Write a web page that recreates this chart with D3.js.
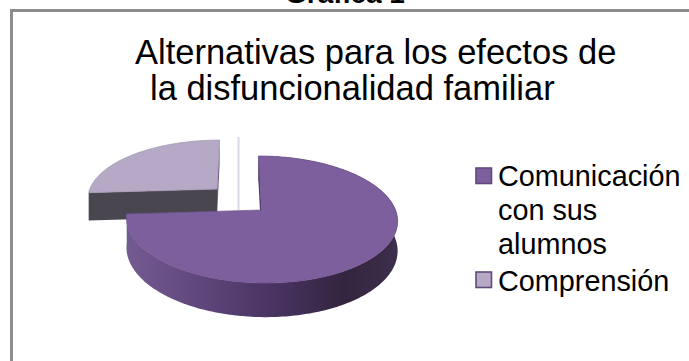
<!DOCTYPE html>
<html>
<head>
<meta charset="utf-8">
<script src="https://cdn.jsdelivr.net/npm/d3@7"></script>
<style>
html, body { margin: 0; padding: 0; background: #fff; }
svg { display: block; }
text { font-family: "Liberation Sans", Arial, sans-serif; fill: #000; }
</style>
</head>
<body>
<svg id="chart" width="689" height="361"></svg>
<script>
// Chart content
const categories = ["Comunicación con sus alumnos", "Comprensión"];
const values = [74, 26];
const sliceColors = ["#7e5f9d", "#b5a9c6"];
const legendLines = [["Comunicación", "con sus", "alumnos"], ["Comprensión"]];
const titleLines = ["Alternativas para los efectos de", "la disfuncionalidad familiar"];
const caption = "Gráfica 1";

const svg = d3.select("#chart");
const defs = svg.append("defs");

// Page frame around the chart
svg.append("path")
  .attr("d", "M11.5,361V10.5H689")
  .attr("fill", "none").attr("stroke", "#8c8c8c").attr("stroke-width", 3);

svg.append("text").attr("x", 345).attr("y", 3)
  .attr("text-anchor", "middle").attr("font-size", 28).attr("font-weight", "bold")
  .text(caption);

// Title
const titleX = [135, 150], titleY = [64, 100];
svg.selectAll("text.title").data(titleLines).join("text")
  .attr("class", "title")
  .attr("x", (d, i) => titleX[i]).attr("y", (d, i) => titleY[i])
  .attr("font-size", 34.5)
  .text(d => d);

// Perspective model for the pie: a disc lying on a plane, viewed from above.
const vanishX = 238, horizonY = -204.8, planeH = 414.8;
const focalX = 134, depthRate = 0.1497, thickness = 29;

function project(px, py, level) {
  const w = 1 + depthRate * py;
  return [vanishX + focalX * px / w,
          horizonY + (planeH + level * thickness) / w];
}

// Explosion of each slice in disc units
const explode = [{ x: 23.5 / focalX, y: 0 }, { x: -22.1 / focalX, y: 0.354 }];

const pieLayout = d3.pie().sort(null).value(d => d);
const arcs = pieLayout(values);
const lineGen = d3.line();

function rimPoint(i, angle, level) {
  const e = explode[i];
  return project(e.x + Math.sin(angle), e.y + Math.cos(angle), level);
}
function rim(i, a0, a1, level) {
  const n = Math.max(2, Math.ceil(Math.abs(a1 - a0) / 0.02));
  return d3.range(n + 1).map(k => rimPoint(i, a0 + (a1 - a0) * k / n, level));
}
function apex(i, level) {
  return project(explode[i].x, explode[i].y, level);
}

// Stray guide line in the gap between the slices
svg.append("line")
  .attr("x1", vanishX + 0.5).attr("x2", vanishX + 0.5).attr("y1", 137).attr("y2", 210)
  .attr("stroke", "#dcd7e5").attr("stroke-width", 2);

// Shaded wall of the large slice: light on the left, dark on the right
const grad = defs.append("linearGradient").attr("id", "wallMain")
  .attr("gradientUnits", "userSpaceOnUse")
  .attr("x1", 127).attr("x2", 398).attr("y1", 0).attr("y2", 0);
[[0, "#735a91"], [0.3, "#5d4579"], [0.55, "#483360"], [0.8, "#33243f"], [1, "#3d2e4c"]]
  .forEach(([o, c]) => grad.append("stop").attr("offset", o).attr("stop-color", c));

// Small slice, drawn first because it sits behind the large one
{
  const a = arcs[1];
  const start = a.startAngle, end = a.endAngle;
  // front radial wall
  svg.append("path")
    .attr("d", lineGen([apex(1, 0), rimPoint(1, start, 0), rimPoint(1, start, 1), apex(1, 1)]) + "Z")
    .attr("fill", "#4a4650");
  // wall of the radial edge facing the gap
  svg.append("path")
    .attr("d", lineGen([apex(1, 0), rimPoint(1, end, 0), rimPoint(1, end, 1), apex(1, 1)]) + "Z")
    .attr("fill", "#6d5f85");
  svg.append("path")
    .attr("d", lineGen([apex(1, 0), ...rim(1, start, end, 0)]) + "Z")
    .attr("fill", sliceColors[1]).attr("stroke", "#9d93ad").attr("stroke-width", 0.7);
}

// Large slice
{
  const a = arcs[0];
  // radial wall visible on the left of the 12 o'clock edge
  svg.append("path")
    .attr("d", lineGen([apex(0, 0), rimPoint(0, a.startAngle, 0), rimPoint(0, a.startAngle, 1), apex(0, 1)]) + "Z")
    .attr("fill", "#4a3866");
  // curved outer wall
  const top = rim(0, a.startAngle, a.endAngle, 0);
  const bottom = rim(0, a.startAngle, a.endAngle, 1).reverse();
  svg.append("path")
    .attr("d", lineGen([...top, ...bottom]) + "Z")
    .attr("fill", "url(#wallMain)");
  svg.append("path")
    .attr("d", lineGen([apex(0, 0), ...top]) + "Z")
    .attr("fill", sliceColors[0]).attr("stroke", "#6f5390").attr("stroke-width", 0.7);
}

// Legend
const swatchY = [168, 272], legendBaseY = [186, 291], legendLeading = 34;
const legend = svg.selectAll("g.legend").data(categories).join("g").attr("class", "legend");
legend.append("rect")
  .attr("x", 476).attr("y", (d, i) => swatchY[i]).attr("width", 15.5).attr("height", 15.5)
  .attr("fill", (d, i) => sliceColors[i])
  .attr("stroke", "#5e4a7c").attr("stroke-width", 1.6);
legend.each(function (d, i) {
  d3.select(this).selectAll("text").data(legendLines[i]).join("text")
    .attr("x", 498).attr("y", (t, k) => legendBaseY[i] + k * legendLeading)
    .attr("font-size", 28.8)
    .text(t => t);
});
</script>
</body>
</html>
